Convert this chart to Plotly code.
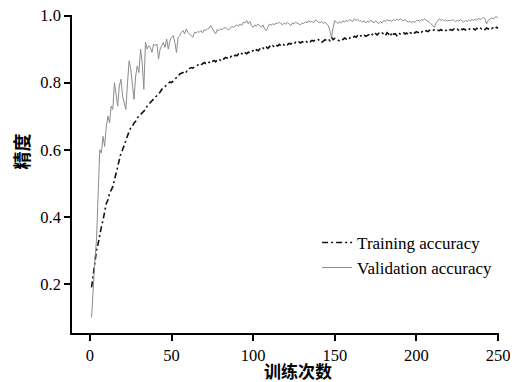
import plotly.graph_objects as go

epochs = list(range(1, 251))

train_acc = [
    0.19, 0.23, 0.27, 0.30, 0.32, 0.35, 0.37, 0.39, 0.42, 0.44,
    0.45, 0.47, 0.48, 0.49, 0.51, 0.53, 0.55, 0.57, 0.59, 0.60,
    0.615, 0.63, 0.645, 0.655, 0.665, 0.67, 0.68, 0.685, 0.695, 0.70,
    0.705, 0.71, 0.715, 0.72, 0.73, 0.735, 0.74, 0.745, 0.752, 0.755,
    0.76, 0.768, 0.772, 0.78, 0.785, 0.79, 0.795, 0.798, 0.802, 0.80,
    0.806, 0.81, 0.815, 0.818, 0.826, 0.828, 0.83, 0.835, 0.832, 0.84,
    0.842, 0.845, 0.843, 0.848, 0.85, 0.852, 0.856, 0.853, 0.858, 0.86,
    0.857, 0.862, 0.86, 0.865, 0.863, 0.866, 0.862, 0.868, 0.87, 0.866,
    0.872, 0.87, 0.875, 0.873, 0.878, 0.876, 0.88, 0.877, 0.882, 0.88,
    0.885, 0.882, 0.887, 0.884, 0.889, 0.886, 0.891, 0.888, 0.893, 0.895,
    0.892, 0.898, 0.895, 0.90, 0.897, 0.903, 0.90, 0.906, 0.902, 0.908,
    0.905, 0.91, 0.906, 0.912, 0.909, 0.914, 0.91, 0.915, 0.912, 0.916,
    0.913, 0.917, 0.915, 0.919, 0.916, 0.92, 0.917, 0.921, 0.918, 0.922,
    0.92, 0.924, 0.921, 0.925, 0.922, 0.926, 0.924, 0.927, 0.925, 0.928,
    0.922, 0.92, 0.924, 0.928, 0.926, 0.93, 0.925, 0.935, 0.928, 0.932,
    0.93, 0.926, 0.925, 0.93, 0.928, 0.933, 0.93, 0.935, 0.932, 0.936,
    0.934, 0.938, 0.935, 0.94, 0.936, 0.94, 0.937, 0.941, 0.938, 0.94,
    0.943, 0.939, 0.944, 0.94, 0.946, 0.942, 0.947, 0.944, 0.948, 0.945,
    0.94, 0.949, 0.945, 0.938, 0.95, 0.944, 0.946, 0.94, 0.948, 0.945,
    0.947, 0.95, 0.945, 0.948, 0.943, 0.949, 0.947, 0.951, 0.948, 0.952,
    0.949, 0.953, 0.95, 0.954, 0.951, 0.955, 0.952, 0.956, 0.953, 0.955,
    0.957, 0.954, 0.956, 0.955, 0.958, 0.954, 0.957, 0.955, 0.959, 0.956,
    0.958, 0.956, 0.96, 0.957, 0.959, 0.956, 0.961, 0.958, 0.96, 0.957,
    0.961, 0.958, 0.962, 0.959, 0.96, 0.957, 0.962, 0.959, 0.963, 0.96,
    0.962, 0.958, 0.963, 0.96, 0.964, 0.961, 0.963, 0.96, 0.965, 0.962,
]

val_acc = [
    0.10, 0.20, 0.27, 0.33, 0.50, 0.60, 0.59, 0.64, 0.61, 0.67,
    0.70, 0.68, 0.73, 0.72, 0.80, 0.77, 0.73, 0.79, 0.81, 0.76,
    0.74, 0.72, 0.80, 0.865, 0.84, 0.79, 0.75, 0.82, 0.85, 0.83,
    0.90, 0.86, 0.78, 0.92, 0.90, 0.91, 0.905, 0.89, 0.915, 0.91,
    0.915, 0.87, 0.90, 0.91, 0.92, 0.905, 0.93, 0.90, 0.925, 0.935,
    0.94, 0.92, 0.89, 0.935, 0.94, 0.95, 0.955, 0.945, 0.96, 0.95,
    0.945, 0.94, 0.935, 0.95, 0.948, 0.952, 0.95, 0.955, 0.948, 0.958,
    0.955, 0.96, 0.962, 0.97, 0.96, 0.95, 0.945, 0.958, 0.955, 0.96,
    0.958, 0.962, 0.965, 0.96, 0.957, 0.962, 0.968, 0.965, 0.97, 0.972,
    0.968, 0.975, 0.97, 0.98, 0.978, 0.985, 0.975, 0.982, 0.97, 0.965,
    0.972, 0.968, 0.975, 0.97, 0.965, 0.972, 0.96, 0.955, 0.968, 0.975,
    0.97, 0.976, 0.972, 0.978, 0.975, 0.98, 0.976, 0.972, 0.978, 0.974,
    0.98, 0.976, 0.97, 0.978, 0.975, 0.98, 0.977, 0.975, 0.972, 0.978,
    0.976, 0.982, 0.978, 0.985, 0.98, 0.983, 0.978, 0.986, 0.985, 0.98,
    0.978, 0.983, 0.976, 0.98, 0.975, 0.97, 0.955, 0.935, 0.965, 0.985,
    0.98, 0.976, 0.982, 0.978, 0.984, 0.98, 0.986, 0.982, 0.988, 0.985,
    0.982, 0.99, 0.986, 0.988, 0.984, 0.985, 0.98, 0.984, 0.978, 0.983,
    0.98, 0.986, 0.982, 0.978, 0.984, 0.98, 0.976, 0.982, 0.978, 0.985,
    0.982, 0.988, 0.984, 0.986, 0.982, 0.988, 0.985, 0.99, 0.986, 0.99,
    0.987, 0.984, 0.988, 0.985, 0.98, 0.984, 0.978, 0.982, 0.98, 0.984,
    0.986, 0.982, 0.988, 0.985, 0.99, 0.986, 0.984, 0.98, 0.975, 0.97,
    0.965, 0.978, 0.985, 0.99, 0.986, 0.988, 0.984, 0.987, 0.983, 0.986,
    0.984, 0.988, 0.985, 0.982, 0.986, 0.983, 0.988, 0.984, 0.98, 0.985,
    0.982, 0.986, 0.984, 0.988, 0.985, 0.99, 0.986, 0.992, 0.988, 0.99,
    0.995, 0.99, 0.975, 0.985, 0.99, 0.993, 0.99, 0.995, 0.997, 0.992,
]

x_ticks = [0, 50, 100, 150, 200, 250]
y_ticks = [0.2, 0.4, 0.6, 0.8, 1.0]
y_tick_labels = ["0.2", "0.4", "0.6", "0.8", "1.0"]

serif = "Liberation Serif, Times New Roman, serif"
cjk = "Noto Sans CJK SC, sans-serif"

fig = go.Figure()
fig.add_trace(go.Scatter(
    x=epochs, y=train_acc, mode="lines", name="Training accuracy",
    line=dict(color="#111111", width=1.6, dash="6px,3px,2px,3px"),
))
fig.add_trace(go.Scatter(
    x=epochs, y=val_acc, mode="lines", name="Validation accuracy",
    line=dict(color="#8c8c8c", width=1.0),
))

fig.update_layout(
    width=518, height=382,
    margin=dict(l=64, r=27, t=7, b=57, autoexpand=False),
    paper_bgcolor="white", plot_bgcolor="white",
    showlegend=True,
    legend=dict(
        x=0.574, y=0.34, xanchor="left", yanchor="top",
        bgcolor="rgba(0,0,0,0)", borderwidth=0,
        font=dict(family=serif, size=17, color="black"),
        tracegroupgap=0, itemwidth=30,
    ),
    xaxis=dict(
        range=[-11, 250.6], tickvals=x_ticks, ticks="outside", ticklen=6,
        tickcolor="black", tickwidth=1.5, showline=True, linecolor="black",
        linewidth=1.5, showgrid=False, zeroline=False,
        tickfont=dict(family=serif, size=16.5, color="black"),
    ),
    yaxis=dict(
        range=[0.054, 1.0015], tickvals=y_ticks, ticktext=y_tick_labels,
        ticks="outside", ticklen=6, tickcolor="black", tickwidth=1.5,
        showline=True, linecolor="black", linewidth=1.5, showgrid=False,
        zeroline=False, ticklabeloverflow="allow",
        tickfont=dict(family=serif, size=16.5, color="black"),
    ),
    annotations=[
        dict(text="<b>训练次数</b>", x=0.529, y=-0.119, xref="paper", yref="paper",
             showarrow=False, xanchor="center", yanchor="middle",
             font=dict(family=cjk, size=17, color="black")),
        dict(text="<b>精度</b>", x=-0.119, y=0.571, xref="paper", yref="paper",
             showarrow=False, textangle=-90, xanchor="center",
             yanchor="middle", font=dict(family=cjk, size=18, color="black")),
    ],
)

fig.write_html("out.html")
